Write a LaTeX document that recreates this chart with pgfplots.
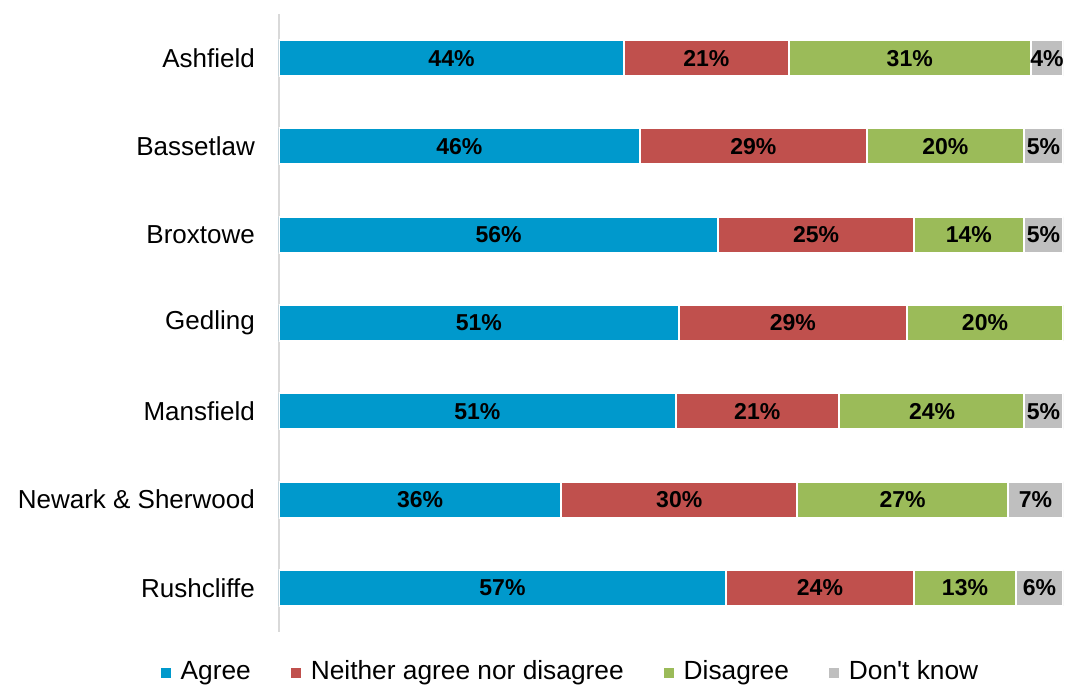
\documentclass[border=0pt]{standalone}
\usepackage{pgfplots}
\pgfplotsset{compat=1.18}
\usepackage{pgfplotstable}
\usepackage{fontspec}
\setmainfont{Liberation Sans}[Ligatures=TeXOff]
\definecolor{cagree}{HTML}{0099CC}
\definecolor{cneither}{HTML}{C0504D}
\definecolor{cdisagree}{HTML}{9BBB59}
\definecolor{cdk}{HTML}{BFBFBF}
\definecolor{axisgray}{HTML}{D9D9D9}

\pgfplotstableread{
y agree neither disagree dk
0 44.0 21.0 30.9 4.1
1 46.0 29.0 20.0 5.0
2 56.0 25.0 14.0 5.0
3 51.0 29.1 19.9 0.0
4 50.6 20.8 23.6 5.0
5 36.0 30.1 26.9 7.0
6 57.0 24.0 13.0 6.0
}\data

\pgfplotstableread{
x y label
22.0 0 44
54.5 0 21
80.45 0 31
97.95 0 4
23.0 1 46
60.5 1 29
85.0 1 20
97.5 1 5
28.0 2 56
68.5 2 25
88.0 2 14
97.5 2 5
25.5 3 51
65.55 3 29
90.05 3 20
25.3 4 51
61.0 4 21
83.3 4 24
97.5 4 5
18.0 5 36
51.05 5 30
79.55 5 27
96.5 5 7
28.5 6 57
69.0 6 24
87.5 6 13
97.0 6 6
}\labels

\pgfplotsset{base/.style={at={(279pt,54pt)}, anchor=south west, scale only axis,
  width=784pt, height=618pt, xmin=0, xmax=100, ymin=-0.5, ymax=6.5, y dir=reverse}}

\begin{document}
\begin{tikzpicture}
\useasboundingbox (0,0) rectangle (1066pt,686pt);
\begin{axis}[base,
  xbar stacked, bar width=36pt,
  axis x line=none, axis y line*=left,
  y axis line style={draw=axisgray, line width=2pt},
  ytick={0,...,6},
  yticklabels={Ashfield,Bassetlaw,Broxtowe,Gedling,Mansfield,Newark \& Sherwood,Rushcliffe},
  major tick length=0pt,
  yticklabel style={font=\fontsize{26}{30}\selectfont, inner sep=0pt, xshift=-24pt},
  legend image code/.code={\fill[#1, draw=none] (0pt,-1pt) rectangle (10pt,9pt);},
  legend columns=-1,
  legend style={at={(0.3705,-0.069)}, anchor=center, draw=none, fill=none, inner sep=0pt,
    font=\fontsize{26.3}{30}\selectfont,
    nodes={inner sep=0pt, text height=0.73em, text depth=0.21em},
    /tikz/every odd column/.append style={column sep=10pt},
    /tikz/every even column/.append style={column sep=40pt}},
]
\addplot[fill=cagree, draw=white, line width=2pt] table[x=agree, y=y]{\data};
\addplot[fill=cneither, draw=white, line width=2pt] table[x=neither, y=y]{\data};
\addplot[fill=cdisagree, draw=white, line width=2pt] table[x=disagree, y=y]{\data};
\addplot[fill=cdk, draw=white, line width=2pt] table[x=dk, y=y]{\data};
\legend{Agree, Neither agree nor disagree, Disagree, Don't know}
\end{axis}
\begin{axis}[base, hide axis]
\addplot[only marks, mark=*, mark size=0pt, mark options={draw=none, fill=none},
  point meta=explicit symbolic,
  nodes near coords={\pgfplotspointmeta\%},
  nodes near coords style={font=\bfseries\fontsize{23}{27}\selectfont, anchor=center, text=black}]
  table[x=x, y=y, meta=label]{\labels};
\end{axis}
\end{tikzpicture}
\end{document}
